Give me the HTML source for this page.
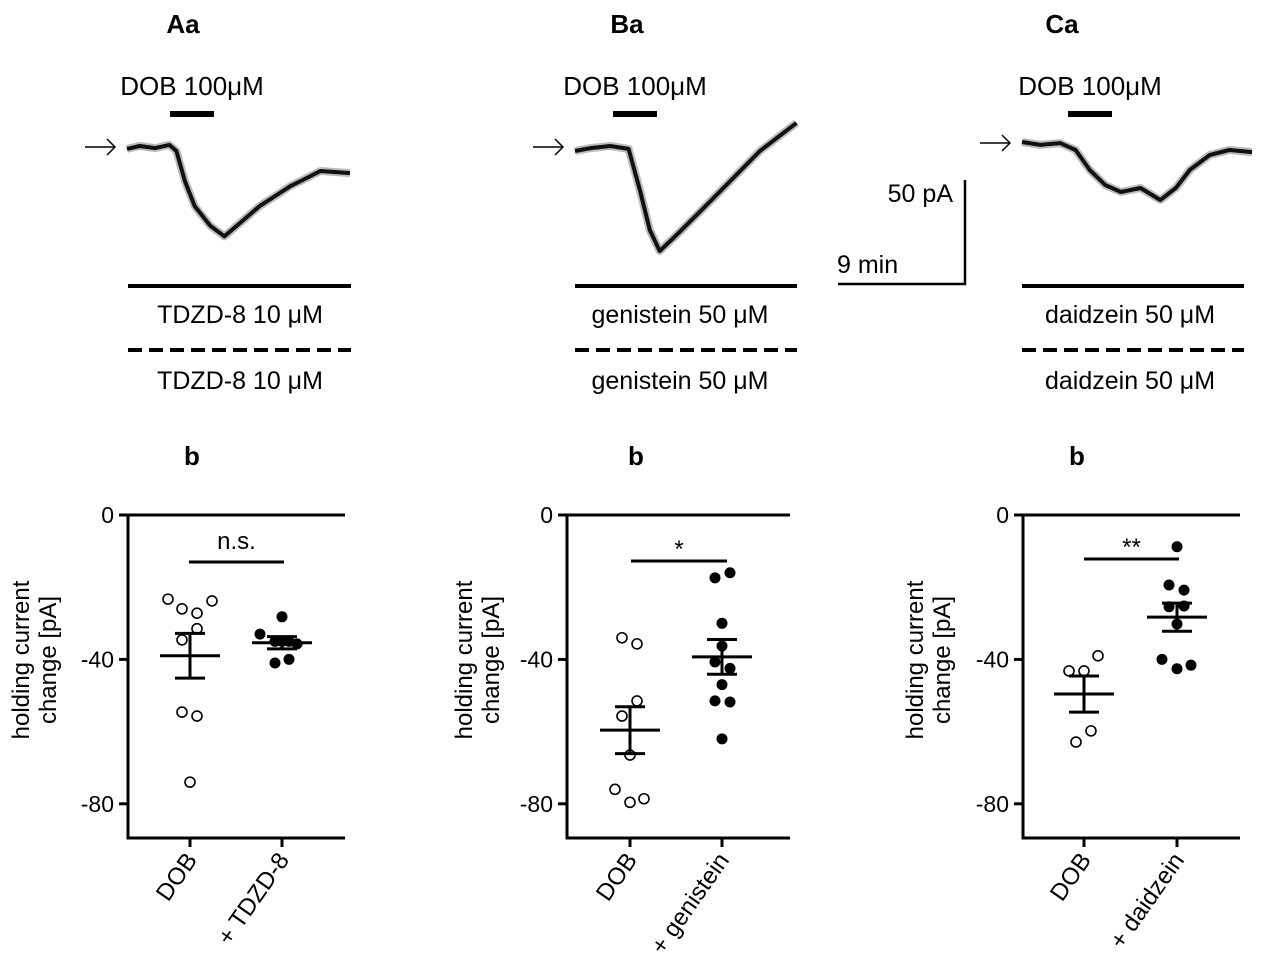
<!DOCTYPE html>
<html><head><meta charset="utf-8"><style>
body{margin:0;background:#fff}
svg{display:block;font-family:"Liberation Sans",sans-serif}
</style></head><body>
<svg id="fig" width="1264" height="968" viewBox="0 0 1264 968"></svg>
<script>
// ---- data ----
const traceATime=[0,0.9,2,3,3.5,4.1,4.8,5.9,6.9,8,9.4,10.5,11.6,12.6,13.7,15.8];
const traceAVal=[-1.4,0,-1,0.5,-2.4,-16.7,-28.6,-38,-43,-36.7,-28.6,-23.8,-19,-15.7,-11.9,-12.9];
const traceBTime=[0,1.1,2.5,3.8,4.6,5.3,6,7.1,8.9,11,13.1,15.7];
const traceBVal=[-2.4,-1,0,-1.4,-21,-40,-50,-43,-31,-16.7,-2.4,11];
const traceCTime=[0,1.3,2.7,3.8,4.8,5.9,7,8.4,9.8,10.9,11.9,13.3,14.7,16.3];
const traceCVal=[0,-1.4,-0.5,-3.8,-13.3,-20.5,-23.8,-21.9,-27.6,-21.9,-13.3,-6.2,-3.8,-4.8];

const aDOB=[-23.3,-23.8,-26,-27.2,-31.5,-34.6,-54.6,-55.7,-74];
const aDrug=[-28.2,-33,-35,-35,-35,-35.7,-41,-40];
const aMean=[-39,-35.4];const aSem=[6.2,1.7];
const bDOB=[-34,-35.7,-51.5,-55.7,-66.5,-76,-79.6,-78.6];
const bDrug=[-17.4,-16,-30,-36.3,-40.7,-42.5,-47,-51.5,-51.8,-62];
const bMean=[-59.6,-39.3];const bSem=[6.5,4.8];
const cDOB=[-39,-43.2,-43.2,-59.8,-62.9];
const cDrug=[-8.8,-19.4,-20.8,-25.4,-25.2,-30.2,-40,-42.6,-41.6];
const cMean=[-49.6,-28.3];const cSem=[5,3.9];
const yTicks=[0,-40,-80];
const yTickLabels=["0","-40","-80"];

const svg=document.getElementById('fig');
const NS='http://www.w3.org/2000/svg';
function mk(tag,attrs,parent){const e=document.createElementNS(NS,tag);for(const k in attrs)e.setAttribute(k,attrs[k]);(parent||svg).appendChild(e);return e;}
function txt(x,y,s,size,anchor,weight,parent){const t=mk('text',{x:x,y:y,'font-size':size,'text-anchor':anchor||'middle','font-weight':weight||'normal',fill:'#000'},parent);t.textContent=s;return t;}

// ---- traces ----
const pxPerMin=127/9, pxPerPA=2.1;
function drawTrace(x0,y0,times,vals,name){
  const pts=times.map((t,i)=>(x0+t*pxPerMin).toFixed(1)+','+(y0-vals[i]*pxPerPA).toFixed(1)).join(' ');
  const h=mk('polyline',{points:pts,fill:'none',stroke:'#777','stroke-width':8,'stroke-linejoin':'round','stroke-opacity':0.5});
  
  
  const p=mk('polyline',{points:pts,fill:'none',stroke:'#111','stroke-width':4,'stroke-linejoin':'round'});
  
  
}
const panels=[
 {lab:'Aa',lx:183,x0:127,y0:146,t:traceATime,v:traceAVal,dob:[170,214],bar:[128,351],drug:'TDZD-8 10 μM',tc:240,b:192},
 {lab:'Ba',lx:627,x0:575,y0:146,t:traceBTime,v:traceBVal,dob:[613,657],bar:[575,797],drug:'genistein 50 μM',tc:680,b:636},
 {lab:'Ca',lx:1062,x0:1022,y0:142,t:traceCTime,v:traceCVal,dob:[1068,1112],bar:[1022,1244],drug:'daidzein 50 μM',tc:1130,b:1077}];
panels.forEach((p,i)=>{
  const id=['a','b','c'][i];
  let e=txt(p.lx,33,p.lab,26,'middle','bold');
  e=txt((p.dob[0]+p.dob[1])/2,95,'DOB 100μM',26);
  e=mk('line',{x1:p.dob[0],x2:p.dob[1],y1:114,y2:114,stroke:'#000','stroke-width':6});
  e=mk('path',{d:`M${p.x0-42} ${p.y0+1}h30m-8 -8l8 8l-8 8`,fill:'none',stroke:'#000','stroke-width':1.5});
  drawTrace(p.x0,p.y0,p.t,p.v,'current-trace-'+id);
  e=mk('line',{x1:p.bar[0],x2:p.bar[1],y1:286,y2:286,stroke:'#000','stroke-width':4});
  e=txt(p.tc,323,p.drug,25);
  e=mk('line',{x1:p.bar[0],x2:p.bar[1],y1:350,y2:350,stroke:'#000','stroke-width':4,'stroke-dasharray':'14 7'});
  e=txt(p.tc,389,p.drug,25);
  e=txt(p.b,465,'b',26,'middle','bold');
});
// scale bar
let sb=mk('path',{d:'M838 284H965V180',fill:'none',stroke:'#000','stroke-width':2.5});

sb=txt(953,202,'50 pA',25,'end');
sb=txt(837,273,'9 min',25,'start');

// ---- scatter plots ----
const Y0=515, pxY=3.61;
function yS(v){return Y0-v*pxY;}
const plots=[
 {id:'a',ax:128,right:345,c:[190,282],dob:aDOB,drug:aDrug,dobX:[168,212,182,197,197,182,182,197,190],drugX:[282,260,275,282,289,297,275,289],mean:aMean,sem:aSem,sig:'n.s.',sigX:[189,284],sigY:562,tx:[20,47],xl:['DOB','+ TDZD-8']},
 {id:'b',ax:567,right:790,c:[630,722],dob:bDOB,drug:bDrug,dobX:[622,637,637,622,630,615,630,644],drugX:[715,730,722,722,715,730,722,715,730,722],mean:bMean,sem:bSem,sig:'*',sigX:[631,727],sigY:561,tx:[463,490],xl:['DOB','+ genistein']},
 {id:'c',ax:1023,right:1240,c:[1084,1177],dob:cDOB,drug:cDrug,dobX:[1098,1069,1084,1091,1076],drugX:[1177,1169,1184,1169,1184,1177,1162,1177,1191],mean:cMean,sem:cSem,sig:'**',sigX:[1084,1179],sigY:559,tx:[914,941],xl:['DOB','+ daidzein']}];
plots.forEach(p=>{
  const g=mk('g',{});
  let e=mk('path',{d:`M${p.ax} ${yS(0)}H${p.right}M${p.ax} ${yS(0)-1.5}V838H${p.right}`,fill:'none',stroke:'#000','stroke-width':3},g);
  
  yTicks.forEach((v,i)=>{
    let t=mk('line',{x1:p.ax-9,x2:p.ax,y1:yS(v),y2:yS(v),stroke:'#000','stroke-width':3},g);
    
    t=txt(p.ax-14,yS(v)+8,yTickLabels[i],23,'end','normal',g);
    
  });
  const cy=660;
  e=txt(0,0,'holding current',24,'middle','normal',g);e.setAttribute('transform',`translate(${p.tx[0]+9},${cy}) rotate(-90)`);
  
  e=txt(0,0,'change [pA]',24,'middle','normal',g);e.setAttribute('transform',`translate(${p.tx[1]+9},${cy}) rotate(-90)`);
  
  p.c.forEach((cx,i)=>{
    let t=mk('line',{x1:cx,x2:cx,y1:838,y2:847,stroke:'#000','stroke-width':3},g);
    
    t=txt(0,0,p.xl[i],24,'end','normal',g);t.setAttribute('transform',`translate(${cx+8},${860}) rotate(-55)`);
    
  });
  p.dob.forEach((v,i)=>{
    const c=mk('circle',{cx:p.dobX[i],cy:yS(v),r:5,fill:'#fff',stroke:'#000','stroke-width':1.6},g);
    
  });
  p.drug.forEach((v,i)=>{
    const c=mk('circle',{cx:p.drugX[i],cy:yS(v),r:5.5,fill:'#000'},g);
    
  });
  p.c.forEach((cx,i)=>{
    const m=p.mean[i],s=p.sem[i];
    const e2=mk('path',{d:`M${cx-30} ${yS(m)}H${cx+30}M${cx} ${yS(m+s)}V${yS(m-s)}M${cx-15} ${yS(m+s)}H${cx+15}M${cx-15} ${yS(m-s)}H${cx+15}`,fill:'none',stroke:'#000','stroke-width':3},g);
    
  });
  e=mk('line',{x1:p.sigX[0],x2:p.sigX[1],y1:p.sigY,y2:p.sigY,stroke:'#000','stroke-width':3},g);
  
  e=txt((p.sigX[0]+p.sigX[1])/2,p.sigY-(p.sig==='n.s.'?13:4),p.sig,p.sig==='n.s.'?24:24,'middle','normal',g);
  
});
</script>
</body></html>
